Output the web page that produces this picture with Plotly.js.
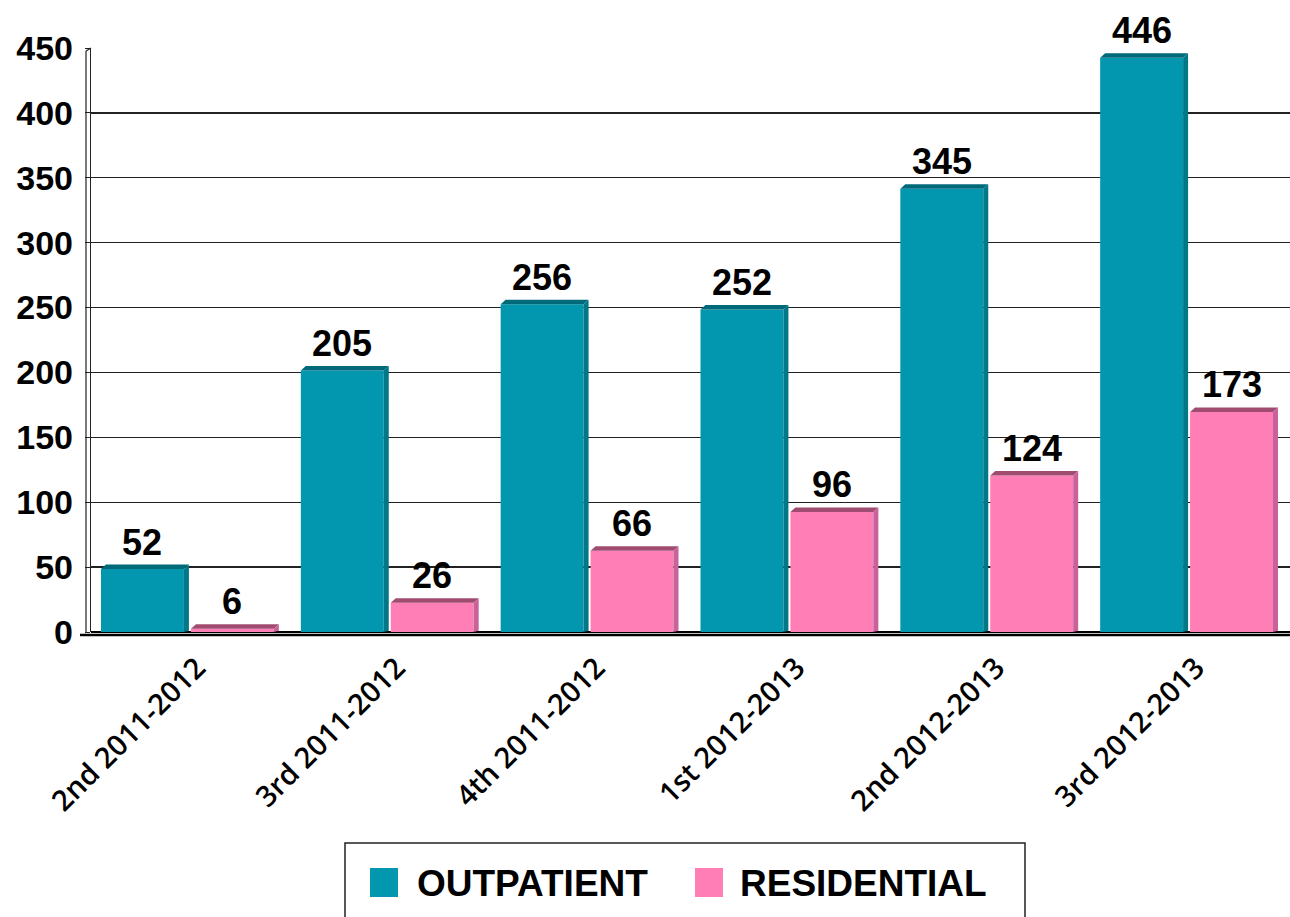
<!DOCTYPE html>
<html>
<head>
<meta charset="utf-8">
<script src="https://cdn.plot.ly/plotly-3.0.1.min.js"></script>
<style>html,body{margin:0;padding:0;background:#fff;}#chart{width:1290px;height:917px;}</style>
</head>
<body>
<div id="chart"></div>
<script>
const categories = ["2nd 2011-2012", "3rd 2011-2012", "4th 2011-2012", "1st 2012-2013", "2nd 2012-2013", "3rd 2012-2013"];
const seriesNames = ["OUTPATIENT", "RESIDENTIAL"];
const outpatient = [52, 205, 256, 252, 345, 446];
const residential = [6, 26, 66, 96, 124, 173];
const yTicks = [0, 50, 100, 150, 200, 250, 300, 350, 400, 450];

const face = ["#0397AF", "#FF7EB6"];
const topC = ["#00697A", "#A04C70"];
const sideC = ["#007888", "#C9619A"];
const offsets = [-0.45, 0.0];
const barW = 0.415;
const plotW = 1199, plotH = 584, yMax = 450;
const dx = 5 / (plotW / 6);
const dy = 4.5 / (plotH / yMax);

const idx = categories.map((c, i) => i);
const seriesVals = [outpatient, residential];

// front face drawn one "depth" below the value (3D look): bar spans base..base+value
const traces = seriesVals.map((vals, s) => ({
  type: "bar",
  name: seriesNames[s],
  x: idx,
  y: vals,
  base: -dy,
  offset: offsets[s],
  width: barW,
  marker: {color: face[s], line: {width: 0}},
  showlegend: false,
  hoverinfo: "x+y"
}));

const shapes = [];
const annotations = [];
seriesVals.forEach((vals, s) => {
  vals.forEach((v, i) => {
    const x0 = i + offsets[s], x1 = x0 + barW;
    const vf = v - dy;
    shapes.push({type: "path", xref: "x", yref: "y", layer: "above",
      path: `M ${x0},${vf} L ${x0 + dx},${v} L ${x1 + dx},${v} L ${x1},${vf} Z`,
      fillcolor: topC[s], line: {width: 0}});
    shapes.push({type: "path", xref: "x", yref: "y", layer: "above",
      path: `M ${x1},0 L ${x1},${vf} L ${x1 + dx},${v} L ${x1 + dx},${dy * 0.3} Z`,
      fillcolor: sideC[s], line: {width: 0}});
    annotations.push({xref: "x", yref: "y", x: x0 + barW / 2, y: v, text: String(v),
      showarrow: false, yanchor: "bottom", yshift: 0,
      font: {family: "Liberation Sans, Arial, sans-serif", size: 36, color: "#000", weight: "bold"}});
  });
});

// 3D wall and floor
shapes.push({type: "line", xref: "paper", yref: "paper", x0: -5 / plotW, x1: -5 / plotW, y0: 0, y1: 1 - 3 / plotH,
  line: {color: "#222", width: 1.2}, layer: "below"});
shapes.push({type: "line", xref: "paper", yref: "paper", x0: -5 / plotW, x1: 0, y0: 1 - 3 / plotH, y1: 1,
  line: {color: "#222", width: 1.2}, layer: "below"});
shapes.push({type: "line", xref: "paper", yref: "paper", x0: -11 / plotW, x1: 1, y0: -3 / plotH, y1: -3 / plotH,
  line: {color: "#000", width: 2.5}, layer: "above"});

// custom legend
const legX = [(370 - 91) / plotW, (695 - 91) / plotW];
const legTX = [(415 - 91) / plotW, (738 - 91) / plotW];
shapes.push({type: "rect", xref: "paper", yref: "paper", x0: (345 - 91) / plotW, x1: (1025 - 91) / plotW,
  y0: -(930 - 632) / plotH, y1: -(843 - 632) / plotH, line: {color: "#222", width: 1.5}, fillcolor: "#fff"});
seriesNames.forEach((n, s) => {
  shapes.push({type: "rect", xref: "paper", yref: "paper", x0: legX[s], x1: legX[s] + 28 / plotW,
    y0: -(897 - 632) / plotH, y1: -(868 - 632) / plotH, fillcolor: face[s], line: {width: 0}});
  annotations.push({xref: "paper", yref: "paper", x: legTX[s], y: -(883 - 632) / plotH, xanchor: "left", yanchor: "middle",
    text: n, showarrow: false,
    font: {family: "Liberation Sans, Arial, sans-serif", size: 37, color: "#000", weight: "bold"}});
});

const layout = {
  width: 1290, height: 917,
  margin: {l: 91, r: 0, t: 48, b: 285},
  paper_bgcolor: "#fff", plot_bgcolor: "#fff",
  barmode: "group",
  showlegend: false,
  xaxis: {
    type: "linear", range: [-0.5, 5.5], tickvals: idx, ticktext: categories,
    tickangle: -45, showgrid: false, zeroline: false, showline: false, ticks: "",
    ticklabelstandoff: 12, ticklabelshift: 6,
    tickfont: {family: "Open Sans, sans-serif", size: 29, color: "#000", weight: 600},
    fixedrange: true
  },
  yaxis: {
    range: [0, yMax], tickvals: yTicks, ticktext: yTicks.map(String),
    showgrid: true, gridcolor: "#222", gridwidth: 1.4,
    zeroline: true, zerolinecolor: "#000", zerolinewidth: 2,
    showline: true, linecolor: "#222", linewidth: 1.2,
    ticks: "outside", ticklen: 5, tickcolor: "#222", tickwidth: 1,
    ticklabelstandoff: 5,
    tickfont: {family: "Liberation Sans, Arial, sans-serif", size: 34, color: "#000", weight: "bold"},
    fixedrange: true
  },
  shapes: shapes,
  annotations: annotations
};

Plotly.newPlot("chart", traces, layout, {displayModeBar: false, staticPlot: true});
</script>
</body>
</html>
